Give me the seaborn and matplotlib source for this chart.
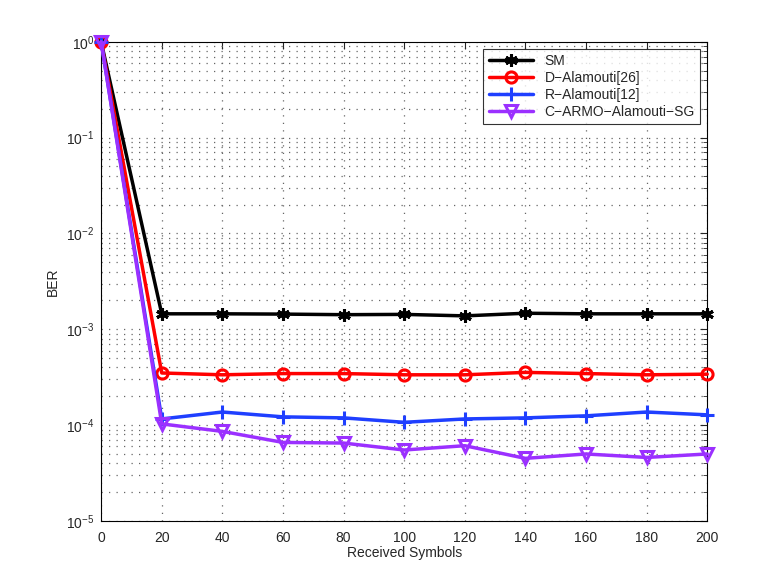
import numpy as np
import pandas as pd
import matplotlib
matplotlib.use("Agg")
import matplotlib.pyplot as plt
import seaborn as sns
from matplotlib.ticker import LogLocator, NullFormatter

symbols = [0, 20, 40, 60, 80, 100, 120, 140, 160, 180, 200]
sm = [1.0, 1.45e-3, 1.45e-3, 1.44e-3, 1.42e-3, 1.43e-3, 1.38e-3, 1.47e-3, 1.45e-3, 1.45e-3, 1.45e-3]
d_alamouti = [1.0, 3.5e-4, 3.35e-4, 3.45e-4, 3.45e-4, 3.35e-4, 3.35e-4, 3.55e-4, 3.45e-4, 3.35e-4, 3.4e-4]
r_alamouti = [1.0, 1.16e-4, 1.37e-4, 1.22e-4, 1.19e-4, 1.07e-4, 1.16e-4, 1.19e-4, 1.25e-4, 1.37e-4, 1.28e-4]
c_armo = [1.0, 1.03e-4, 8.6e-5, 6.6e-5, 6.5e-5, 5.5e-5, 6.1e-5, 4.5e-5, 5.0e-5, 4.6e-5, 5.0e-5]

labels = ["SM", "D\u2212Alamouti[26]", "R\u2212Alamouti[12]", "C\u2212ARMO\u2212Alamouti\u2212SG"]
series = [sm, d_alamouti, r_alamouti, c_armo]
colors = ["#000000", "#FF0000", "#1F3FFF", "#9B30FF"]
markers = [(6, 2, 0), "o", "+", "v"]
msizes = [9, 8, 10, 9]

sns.set_style("white")
plt.rcParams['font.family'] = ['Liberation Sans', 'DejaVu Sans']

fig = plt.figure(figsize=(7.78, 5.88), dpi=100)
ax = fig.add_axes([0.13, 0.114, 0.779, 0.815])

for lab, vals, c, m, ms in zip(labels, series, colors, markers, msizes):
    df = pd.DataFrame({"x": symbols, "y": vals})
    sns.lineplot(data=df, x="x", y="y", ax=ax, color=c, marker=m, markersize=ms,
                 markerfacecolor="none" if m in ("o", "v") else c,
                 markeredgecolor=c, markeredgewidth=2.2, linewidth=2.5, label=lab,
                 clip_on=False, zorder=3)

ax.set_yscale("log")
ax.set_ylim(1e-5, 1)
ax.set_xlim(0, 200)
ax.set_xticks(symbols)
ax.yaxis.set_major_locator(LogLocator(base=10, numticks=10))
ax.yaxis.set_minor_locator(LogLocator(base=10, subs=np.arange(2, 10), numticks=10))
ax.yaxis.set_minor_formatter(NullFormatter())
ax.set_axisbelow(True)
ax.grid(True, which="major", linestyle=(0, (1, 5)), color="#666666", linewidth=0.9)
ax.grid(True, which="minor", axis="y", linestyle=(0, (1, 5)), color="#666666", linewidth=0.9)
ax.tick_params(axis="both", which="both", direction="in", labelsize=10, top=True, right=True)
ax.tick_params(which="major", length=5)
ax.tick_params(which="minor", length=3)
ax.tick_params(axis="x", pad=7)
ax.tick_params(axis="y", pad=5)
for s in ax.spines.values():
    s.set_color("black")
    s.set_linewidth(0.8)
ax.set_xlabel("Received Symbols", fontsize=10, labelpad=1)
ax.set_ylabel("BER", fontsize=10, labelpad=4)

leg = ax.legend(loc="upper right", fontsize=10, frameon=True, fancybox=False,
                edgecolor="black", borderpad=0.4, labelspacing=0.2, handlelength=3.2,
                borderaxespad=0.5)
leg.get_frame().set_linewidth(0.8)

fig.savefig("out.png", dpi=100)
